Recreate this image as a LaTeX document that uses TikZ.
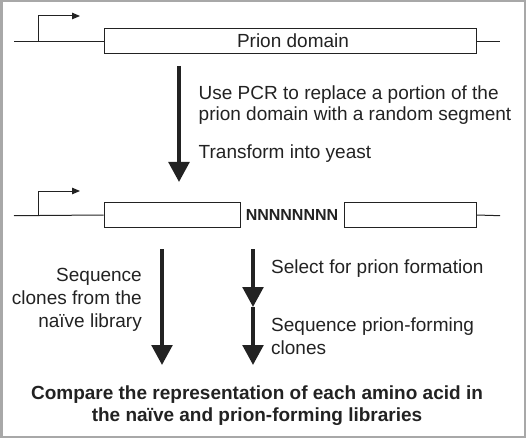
\documentclass[tikz,border=0pt]{standalone}
\usepackage{fontspec}
\setmainfont{Liberation Sans}
\usepackage{tikz}
\usetikzlibrary{arrows,arrows.meta,positioning}

\definecolor{inkgray}{HTML}{222222}
\definecolor{framegray}{HTML}{A8A8A8}

\tikzset{
  gene/.style={draw=inkgray,line width=1pt,inner sep=0pt},
  stepline/.style={draw=inkgray,line width=4pt,-{Triangle[length=20pt,width=20.5pt]}},
  promoter/.style={draw=inkgray,line width=1pt,-{Triangle[length=8pt,width=6.5pt]}},
  txt/.style={inner sep=0pt,text=inkgray,font=\fontsize{19}{22}\selectfont},
  boldtxt/.style={inner sep=0pt,text=inkgray,font=\bfseries\fontsize{19}{22}\selectfont}
}

\begin{document}
\begin{tikzpicture}[x=1pt,y=-1pt]
			\useasboundingbox (0,0) rectangle (526,438);
			\draw[framegray,line width=2.5pt] (1.25,1.25) rectangle (524.75,436.75);
			% wild-type construct
			\node (pd) at (290,41.3) [gene,minimum width=372pt,minimum height=25.3pt] {};
			\node (pdl) at (293,48) [txt,anchor=base] {Prion domain};
			\coordinate (a0) at (14,41.3);
			\coordinate (a1) at (500,41.3);
			\coordinate (p0) at (38.7,41.3);
			\coordinate (p1) at (80,16);
			\draw[gene] (a0)--(pd.west);
			\draw[gene] (pd.east)--(a1);
			\draw[promoter] (p0)|-(p1);
			% first step
			\coordinate (s0) at (179,66);
			\coordinate (s1) at (179,182);
			\draw[stepline] (s0)--(s1);
			\node (u1) at (198.5,99.3) [txt,anchor=base west] {Use PCR to replace a portion of the};
			\node (u2) at (198.5,120.7) [txt,anchor=base west] {prion domain with a random segment};
			\node (u3) at (198.5,158.3) [txt,anchor=base west] {Transform into yeast};
			% randomized construct
			\node (lb) at (172,215) [gene,minimum width=136pt,minimum height=24.8pt] {};
			\node (rb) at (410,215) [gene,minimum width=132pt,minimum height=24.8pt] {};
			\node (nn) at (292,220.7) [boldtxt,anchor=base,font=\bfseries\fontsize{16}{18}\selectfont] {NNNNNNNN};
			\coordinate (b0) at (14,215.7);
			\coordinate (b1) at (500,215.7);
			\coordinate (q0) at (38.7,215.7);
			\coordinate (q1) at (80,191);
			\draw[gene] (b0)--(lb.west);
			\draw[gene] (rb.east)--(b1);
			\draw[promoter] (q0)|-(q1);
			% naive library
			\coordinate (l0) at (162,249);
			\coordinate (l1) at (162,365);
			\draw[stepline] (l0)--(l1);
			\node (n1) at (142,281.5) [txt,anchor=base east] {Sequence};
			\node (n2) at (142,304.5) [txt,anchor=base east] {clones from the};
			\node (n3) at (142,327.5) [txt,anchor=base east] {na\"{\i}ve library};
			% selected library
			\coordinate (r0) at (253,249);
			\coordinate (r1) at (253,307);
			\coordinate (r2) at (253,365);
			\draw[stepline] (r0)--(r1);
			\draw[stepline] (r1)--(r2);
			\node (f1) at (271,273.3) [txt,anchor=base west] {Select for prion formation};
			\node (f2) at (271,331.7) [txt,anchor=base west] {Sequence prion-forming};
			\node (f3) at (271,354) [txt,anchor=base west] {clones};
			% comparison
			\node (c1) at (257,399.3) [boldtxt,anchor=base] {Compare the representation of each amino acid in};
			\node (c2) at (257,421.7) [boldtxt,anchor=base] {the na\"{\i}ve and prion-forming libraries};
		\end{tikzpicture}
\end{document}
